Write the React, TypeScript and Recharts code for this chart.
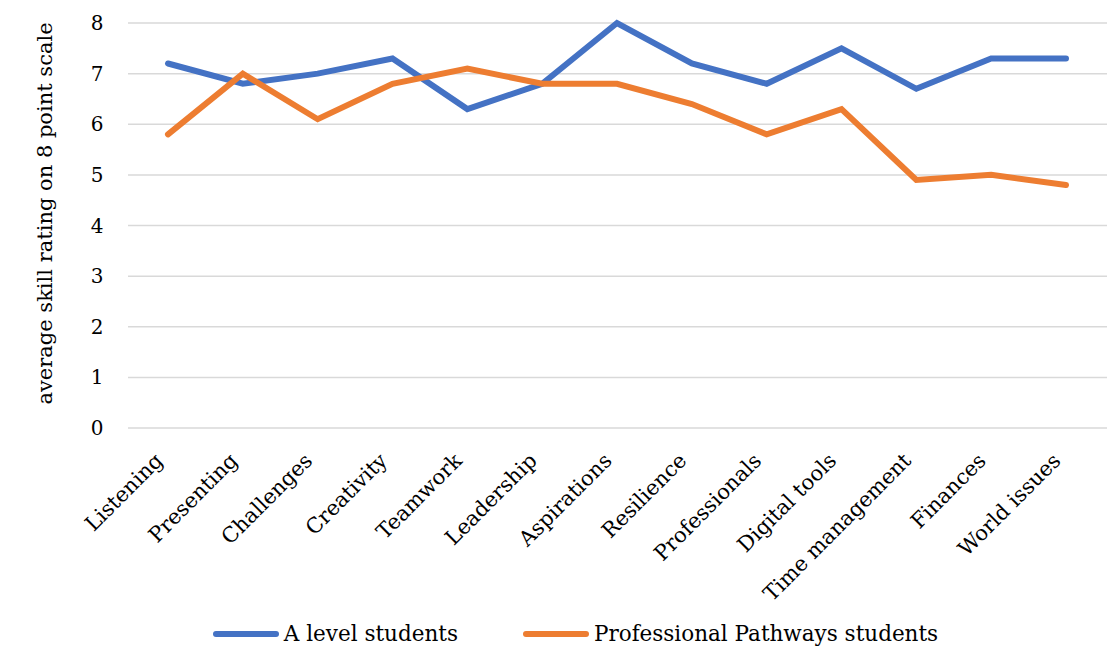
import { LineChart, Line, XAxis, YAxis, CartesianGrid, Legend } from "recharts";

const skills = [
  "Listening",
  "Presenting",
  "Challenges",
  "Creativity",
  "Teamwork",
  "Leadership",
  "Aspirations",
  "Resilience",
  "Professionals",
  "Digital tools",
  "Time management",
  "Finances",
  "World issues",
];

const aLevel = [7.2, 6.8, 7.0, 7.3, 6.3, 6.8, 8.0, 7.2, 6.8, 7.5, 6.7, 7.3, 7.3];
const pathways = [5.8, 7.0, 6.1, 6.8, 7.1, 6.8, 6.8, 6.4, 5.8, 6.3, 4.9, 5.0, 4.8];

const yTicks = [0, 1, 2, 3, 4, 5, 6, 7, 8];

const yTitle = "average skill rating on 8 point scale";

const series = [
  { key: "aLevel", name: "A level students", color: "#4472C4" },
  { key: "pathways", name: "Professional Pathways students", color: "#ED7D31" },
];

const data = skills.map((skill, i) => ({
  skill,
  aLevel: aLevel[i],
  pathways: pathways[i],
}));

const FONT = "'DejaVu Serif', Georgia, serif";

const XTick = ({ x, y, payload }: any) => (
  <text
    x={x - 4}
    y={y + 26}
    transform={`rotate(-45, ${x - 4}, ${y + 26})`}
    textAnchor="end"
    fontFamily={FONT}
    fontSize={21}
    fill="#000"
  >
    {payload.value}
  </text>
);

const YTick = ({ x, y, payload }: any) => (
  <text x={x - 23} y={y + 7} textAnchor="middle" fontFamily={FONT} fontSize={20} fill="#000">
    {payload.value}
  </text>
);

// rotated axis title, drawn by hand so the serif font sticks
const YTitle = ({ viewBox }: any) => {
  const cx = viewBox.x + 37;
  const cy = viewBox.y + viewBox.height / 2 - 12;
  return (
    <text
      x={cx}
      y={cy}
      transform={`rotate(-90, ${cx}, ${cy})`}
      textAnchor="middle"
      dominantBaseline="central"
      fontFamily={FONT}
      fontSize={21}
      fill="#000"
    >
      {yTitle}
    </text>
  );
};

const LegendContent = () => (
  <div style={{ display: "flex", justifyContent: "center", gap: 65, fontFamily: FONT, fontSize: 21.5, marginLeft: 36, lineHeight: "30px" }}>
    {series.map((s) => (
      <div key={s.key} style={{ display: "flex", alignItems: "center", gap: 5 }}>
        <div style={{ width: 66, height: 6, borderRadius: 3, background: s.color }} />
        <span>{s.name}</span>
      </div>
    ))}
  </div>
);

export default function App() {
  return (
    <LineChart width={1112} height={641} data={data} margin={{ top: 15, right: 13, left: 0, bottom: 0 }}>
      <CartesianGrid vertical={false} stroke="#d9d9d9" strokeWidth={1.5} />
      <XAxis
        dataKey="skill"
        axisLine={false}
        tickLine={false}
        interval={0}
        height={191}
        padding={{ left: 40, right: 41 }}
        tick={<XTick />}
      />
      <YAxis
        domain={[0, 8]}
        ticks={yTicks}
        axisLine={false}
        tickLine={false}
        width={120}
        tick={<YTick />}
        label={<YTitle />}
      />
      <Legend verticalAlign="bottom" height={30} content={<LegendContent />} />
      {series.map((s) => (
        <Line
          key={s.key}
          type="linear"
          dataKey={s.key}
          name={s.name}
          stroke={s.color}
          strokeWidth={6}
          dot={false}
          activeDot={false}
          strokeLinecap="round"
          strokeLinejoin="miter"
          isAnimationActive={false}
        />
      ))}
    </LineChart>
  );
}
